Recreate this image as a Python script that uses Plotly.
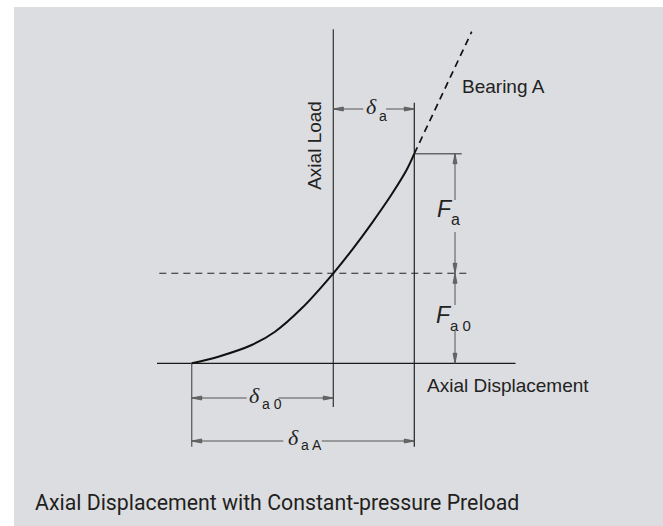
import plotly.graph_objects as go

# ---------------- data (displacement units, load units) ----------------
curve_disp = [0.0, 2.66, 6.0, 8.33, 11.0, 14.16, 16.0, 18.0, 20.0, 21.5, 22.26]
curve_load = [0.0, 0.66, 1.83, 3.16, 5.5, 9.0, 11.3, 14.0, 16.9, 19.35, 20.96]
bearing_disp = [22.26, 28.0]
bearing_load = [20.96, 33.16]

delta_a0 = 14.16      # displacement at preload
delta_aA = 22.26      # displacement at total load
F_a0 = 9.0            # preload
F_total = 20.96       # preload + external load

axis_load_top = 33.4
axis_disp_left, axis_disp_right = -3.47, 32.38
preload_line = [-3.24, 27.5]

labels = {
    "title": "Axial Displacement with Constant-pressure Preload",
    "ylab": "Axial Load",
    "xlab": "Axial Displacement",
    "bearing": "Bearing A",
}

# ---------------- figure ----------------
W, H = 663, 526
XR = [-19.17, 47.13]
YR = [-16.27, 36.33]

fig = go.Figure()

def line(xs, ys, color="#333", width=1.2, dash=None):
    fig.add_trace(go.Scatter(x=xs, y=ys, mode="lines",
                             line=dict(color=color, width=width, dash=dash),
                             hoverinfo="skip", showlegend=False))

# axes
line([delta_a0, delta_a0], [axis_load_top, -4.37], "#333", 1.2)
line([axis_disp_left, axis_disp_right], [0, 0], "#1a1a1a", 1.3)
# preload dashed line
line(preload_line, [F_a0, F_a0], "#222", 1.1, "7px,5px")
# extension lines
line([0, 0], [0, -8.34], "#666", 1.4)
line([delta_aA, delta_aA], [26.06, -8.34], "#222", 1.2)
line([delta_aA, 27.0], [F_total, F_total], "#666", 1.4)

# dimension lines (with gaps for labels)
dim_col = "#555"
line([delta_a0, 17.16, None, 19.43, delta_aA], [25.43] * 2 + [None] + [25.43] * 2, dim_col, 1)
line([0, 5.5, None, 8.66, delta_a0], [-3.47] * 2 + [None] + [-3.47] * 2, dim_col, 1)
line([0, 9.16, None, 13.0, delta_aA], [-7.77] * 2 + [None] + [-7.77] * 2, dim_col, 1)
xv = 26.33
line([xv, xv, None, xv, xv], [F_total, 16.33, None, 13.13, F_a0], dim_col, 1)
line([xv, xv, None, xv, xv], [F_a0, 5.83, None, 3.33, 0], dim_col, 1)

# arrowheads (narrow triangles)
L, Wd = 1.0, 0.2
tips = [
    (delta_a0, 25.43, -1, 0), (delta_aA, 25.43, 1, 0),
    (0, -3.47, -1, 0), (delta_a0, -3.47, 1, 0),
    (0, -7.77, -1, 0), (delta_aA, -7.77, 1, 0),
    (xv, F_total, 0, 1), (xv, F_a0, 0, -1),
    (xv, F_a0, 0, 1), (xv, 0, 0, -1),
]
ax_, ay_ = [], []
for tx, ty, dx, dy in tips:
    bx, by = tx - dx * L, ty - dy * L
    px, py = -dy * Wd, dx * Wd
    ax_ += [tx, bx + px, bx - px, tx, None]
    ay_ += [ty, by + py, by - py, ty, None]
fig.add_trace(go.Scatter(x=ax_, y=ay_, mode="lines", fill="toself",
                         fillcolor="#666", line=dict(color="#555", width=0.8),
                         hoverinfo="skip", showlegend=False))

# load-displacement curve
fig.add_trace(go.Scatter(x=curve_disp, y=curve_load, mode="lines",
                         line=dict(color="#111", width=2, shape="spline", smoothing=1.0),
                         hoverinfo="skip", showlegend=False))
# bearing A extension (dashed)
line(bearing_disp, bearing_load, "#111", 1.7, "7px,5px")

# ---------------- text ----------------
sans = "Liberation Sans, Arial, sans-serif"
serif = "Liberation Serif, Times New Roman, serif"
tc = "#222"

def txt(x, y, s, size, family=sans, xanchor="center", yanchor="middle", angle=0):
    fig.add_annotation(x=x, y=y, xref="x", yref="y", text=s, showarrow=False,
                       font=dict(family=family, size=size, color=tc),
                       xanchor=xanchor, yanchor=yanchor, textangle=angle)

txt(12.33, 21.75, labels["ylab"], 19, angle=-90)
txt(26.85, 27.73, labels["bearing"], 19, xanchor="left")
txt(23.3, -2.19, labels["xlab"], 19, xanchor="left")

# delta labels
txt(17.95, 25.65, "<i>δ</i>", 22, serif)
txt(18.5, 24.75, "a", 14, xanchor="left")
txt(6.28, -3.25, "<i>δ</i>", 22, serif)
txt(6.8, -4.05, "a 0", 14, xanchor="left")
txt(10.18, -7.45, "<i>δ</i>", 22, serif)
txt(10.7, -8.15, "a A", 14, xanchor="left")

# force labels
txt(25.35, 15.45, "<i>F</i>", 23)
txt(25.75, 14.4, "a", 16, xanchor="left")
txt(25.25, 4.85, "<i>F</i>", 23)
txt(25.65, 3.75, "a 0", 15, xanchor="left")

# title
fig.add_annotation(x=33 / W, y=1 - 502 / H, xref="paper", yref="paper",
                   text=labels["title"], showarrow=False,
                   font=dict(family="Roboto, sans-serif", size=21.3, color="#231f20"),
                   xanchor="left", yanchor="middle")

fig.update_layout(
    width=W, height=H, margin=dict(l=0, r=0, t=0, b=0),
    paper_bgcolor="white", plot_bgcolor="rgba(0,0,0,0)",
    xaxis=dict(range=XR, visible=False, fixedrange=True),
    yaxis=dict(range=YR, visible=False, fixedrange=True),
    shapes=[dict(type="rect", xref="paper", yref="paper", x0=14 / W, x1=1,
                 y0=0, y1=1 - 7 / H, fillcolor="#dcdde0", line=dict(width=0),
                 layer="below")],
)

fig.write_html("out.html", config={"displayModeBar": False},
               post_script="document.body.style.margin='0px';")
